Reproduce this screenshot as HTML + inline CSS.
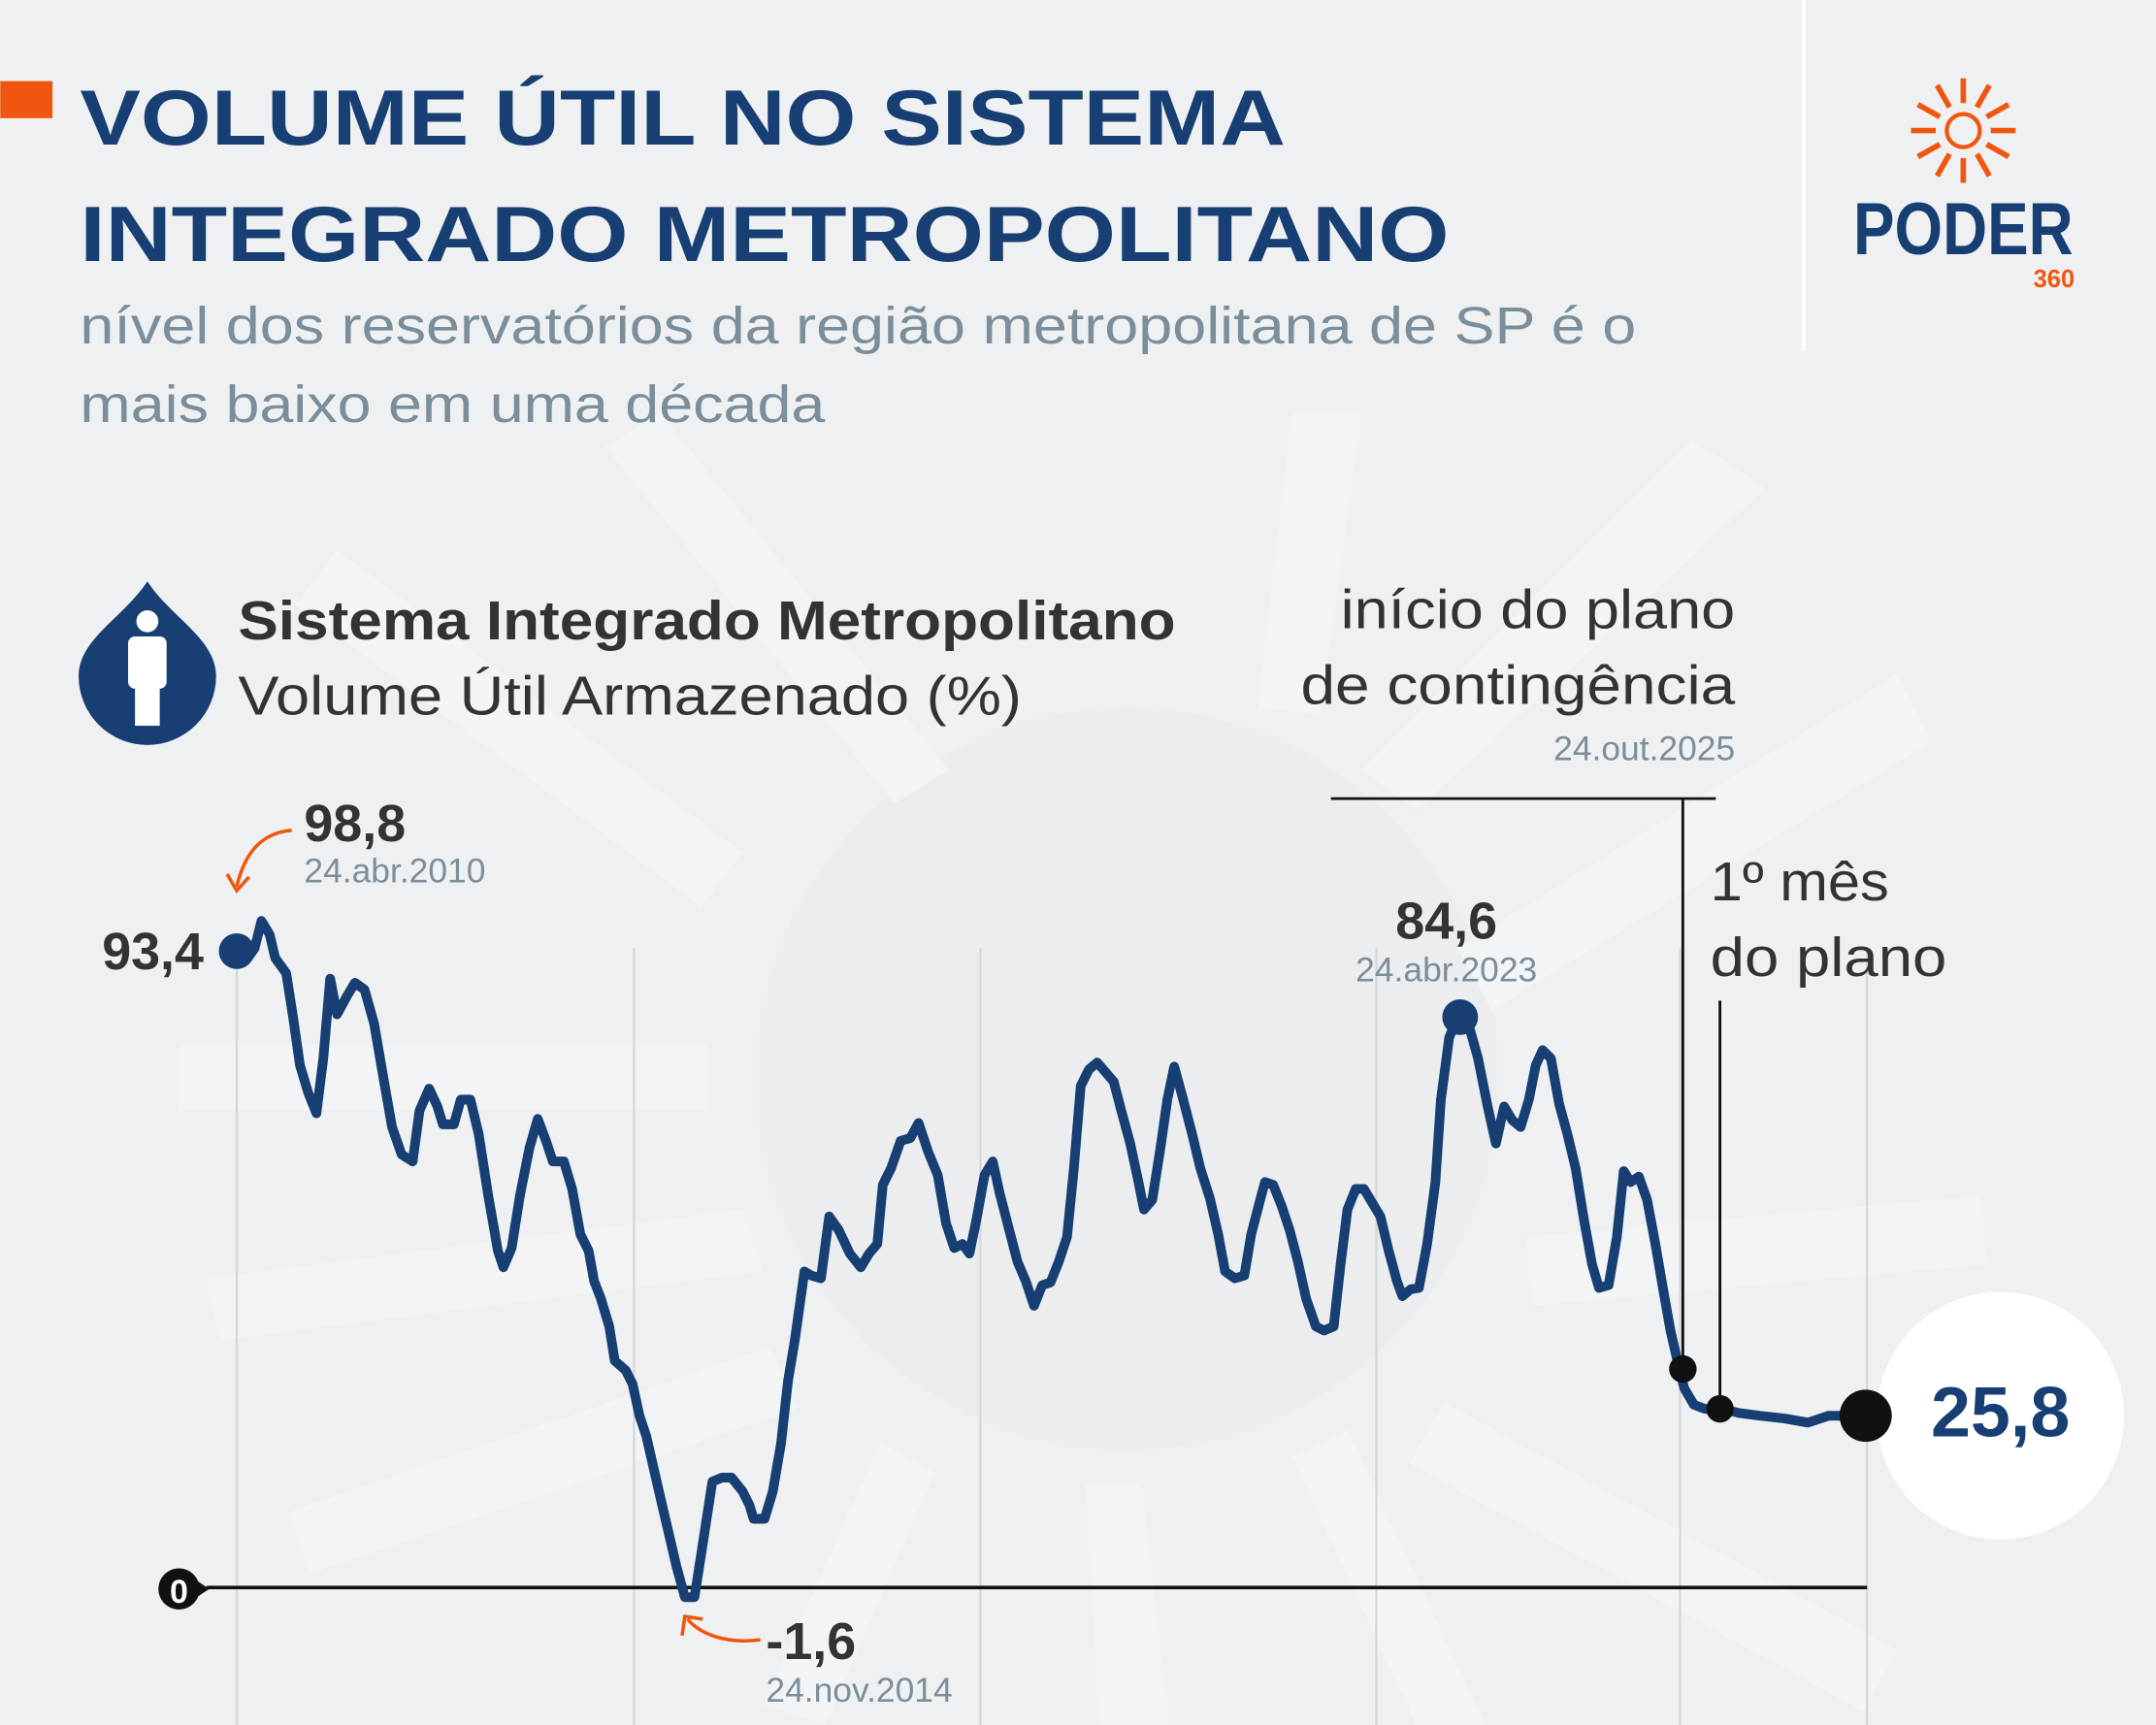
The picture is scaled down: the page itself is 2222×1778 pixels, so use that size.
<!DOCTYPE html>
<html><head><meta charset="utf-8"><style>
html,body{margin:0;padding:0;background:#eff0f1;}
svg{display:block}
text{font-family:"Liberation Sans",sans-serif;}
</style></head><body>
<svg width="2222" height="1778" viewBox="0 0 1568 1255" xmlns="http://www.w3.org/2000/svg">
<rect width="1568" height="1255" fill="#eff0f1"/>
<g fill="#f3f4f5">
<circle cx="820" cy="785" r="270" fill="#ecedef"/>
<polygon points="130,760 515,760 515,808 130,808"/>
<polygon points="150,930 540,880 555,925 160,975"/>
<polygon points="210,1100 560,980 580,1025 225,1145"/>
<polygon points="245,400 540,620 510,660 215,440"/>
<polygon points="480,300 690,560 650,585 440,325"/>
<polygon points="1230,320 990,560 1030,590 1285,355"/>
<polygon points="1380,490 1060,690 1085,735 1405,540"/>
<polygon points="1110,900 1440,870 1445,920 1115,950"/>
<polygon points="1050,1020 1380,1200 1355,1245 1025,1065"/>
<polygon points="790,1080 830,1080 850,1255 800,1255"/>
<polygon points="640,1050 680,1070 600,1255 555,1240"/>
<polygon points="940,1060 980,1040 1080,1255 1030,1255"/>
<polygon points="940,300 990,300 960,520 915,515"/>
</g>
<line x1="1312" y1="0" x2="1312" y2="255" stroke="#fff" stroke-width="3"/>
<rect x="0" y="59" width="38" height="27" fill="#f0560f"/>
<text x="58" y="105" font-size="57" font-weight="bold" fill="#173f73" textLength="877" lengthAdjust="spacingAndGlyphs">VOLUME ÚTIL NO SISTEMA</text>
<text x="58" y="190" font-size="57" font-weight="bold" fill="#173f73" textLength="996" lengthAdjust="spacingAndGlyphs">INTEGRADO METROPOLITANO</text>
<text x="58" y="250" font-size="38" fill="#7a8e9b" textLength="1132" lengthAdjust="spacingAndGlyphs">nível dos reservatórios da região metropolitana de SP é o</text>
<text x="58" y="307" font-size="38" fill="#7a8e9b" textLength="542" lengthAdjust="spacingAndGlyphs">mais baixo em uma década</text>
<g transform="translate(1428,95)" stroke="#f0560f" stroke-width="4">
<line x1="0" y1="-20" x2="0" y2="-38"/><line x1="10" y1="-17" x2="19" y2="-33"/><line x1="17" y1="-10" x2="33" y2="-19"/><line x1="20" y1="0" x2="38" y2="0"/><line x1="17" y1="10" x2="33" y2="19"/><line x1="10" y1="17" x2="19" y2="33"/><line x1="0" y1="20" x2="0" y2="38"/><line x1="-10" y1="17" x2="-19" y2="33"/><line x1="-17" y1="10" x2="-33" y2="19"/><line x1="-20" y1="0" x2="-38" y2="0"/><line x1="-17" y1="-10" x2="-33" y2="-19"/><line x1="-10" y1="-17" x2="-19" y2="-33"/>
</g>
<circle cx="1428" cy="95" r="12" fill="none" stroke="#f0560f" stroke-width="3"/>
<text x="1348" y="185" font-size="54" font-weight="bold" fill="#173f73" textLength="160" lengthAdjust="spacingAndGlyphs">PODER</text>
<text x="1509" y="209" font-size="18" font-weight="bold" fill="#f0560f" text-anchor="end">360</text>
<path d="M107,423 C125,450 157,465 157,492 A50,50 0 0 1 57,492 C57,465 89,450 107,423 Z" fill="#173f73"/>
<circle cx="107" cy="452" r="8" fill="#fff"/>
<rect x="93" y="463" width="28" height="38" rx="5" fill="#fff"/>
<rect x="98" y="495" width="18" height="33" fill="#fff"/>
<text x="173" y="465" font-size="40" font-weight="bold" fill="#333" textLength="682" lengthAdjust="spacingAndGlyphs">Sistema Integrado Metropolitano</text>
<text x="173" y="520" font-size="40" fill="#333" textLength="570" lengthAdjust="spacingAndGlyphs">Volume Útil Armazenado (%)</text>
<g stroke="#d2d6da" stroke-width="1.5">
<line x1="172" y1="690" x2="172" y2="1255"/><line x1="461" y1="690" x2="461" y2="1255"/><line x1="713" y1="690" x2="713" y2="1255"/><line x1="1001" y1="690" x2="1001" y2="1255"/><line x1="1222" y1="690" x2="1222" y2="1255"/><line x1="1358" y1="690" x2="1358" y2="1255"/>
</g>
<line x1="150" y1="1155" x2="1358" y2="1155" stroke="#111" stroke-width="2.5"/>
<circle cx="130" cy="1156" r="15" fill="#111"/>
<polygon points="143,1150 152,1156 143,1162" fill="#111"/>
<text x="130" y="1166" font-size="24" font-weight="bold" fill="#fff" text-anchor="middle">0</text>
<line x1="968" y1="581" x2="1248" y2="581" stroke="#111" stroke-width="2"/>
<line x1="1224" y1="581" x2="1224" y2="995" stroke="#111" stroke-width="2"/>
<line x1="1251" y1="728" x2="1251" y2="1025" stroke="#111" stroke-width="2"/>
<text x="975" y="457" font-size="40" fill="#333" textLength="287" lengthAdjust="spacingAndGlyphs">início do plano</text>
<text x="946" y="512" font-size="40" fill="#333" textLength="316" lengthAdjust="spacingAndGlyphs">de contingência</text>
<text x="1262" y="553" font-size="25" fill="#7a8e9b" text-anchor="end">24.out.2025</text>
<text x="1244" y="655" font-size="40" fill="#333" textLength="130" lengthAdjust="spacingAndGlyphs">1º mês</text>
<text x="1244" y="710" font-size="40" fill="#333" textLength="172" lengthAdjust="spacingAndGlyphs">do plano</text>
<polyline fill="none" stroke="#173f73" stroke-width="7" stroke-linejoin="round" stroke-linecap="round" points="172,692 180,697 185,690 190,670 196,680 200,697 208,708 213,740 218,775 224,795 230,810 235,770 240,712 245,738 252,725 258,715 265,720 272,745 278,780 285,820 292,840 300,845 305,808 312,792 318,805 322,818 330,818 335,800 342,800 348,825 355,870 362,910 366,922 372,908 378,870 385,835 391,814 397,830 402,845 410,845 416,865 422,898 428,910 432,932 437,945 443,965 447,990 455,997 460,1007 465,1030 470,1045 478,1080 485,1110 492,1140 498,1162 505,1162 510,1130 518,1078 525,1075 532,1075 540,1085 545,1095 548,1105 556,1105 562,1085 568,1050 573,1005 578,975 585,925 590,928 597,930 603,885 610,895 618,912 626,922 632,912 638,905 642,862 648,850 655,830 662,828 668,817 675,838 682,855 688,890 694,908 700,905 705,912 710,888 716,855 722,845 727,868 734,895 740,918 746,932 752,950 758,935 764,933 770,918 776,900 781,850 786,790 792,778 798,773 804,780 810,787 816,810 822,832 828,860 832,880 838,873 844,835 849,800 854,776 860,798 867,825 873,850 880,872 886,898 891,925 898,930 905,928 910,898 916,875 920,860 926,862 932,877 938,895 944,918 950,945 957,965 963,968 970,965 975,920 980,880 986,865 992,865 998,875 1004,885 1010,910 1016,932 1020,943 1026,938 1032,937 1038,905 1044,860 1048,800 1054,755 1058,745 1062,740 1068,745 1075,770 1082,805 1088,832 1094,805 1100,815 1106,820 1112,800 1117,775 1122,764 1128,770 1134,803 1140,825 1146,850 1152,887 1158,920 1163,937 1170,935 1176,900 1181,852 1186,860 1192,856 1198,873 1204,905 1210,940 1215,968 1220,990 1225,1010 1232,1022 1240,1025 1252,1025 1265,1028 1280,1030 1298,1032 1315,1035 1330,1030 1345,1030 1357,1030"/>
<circle cx="172" cy="692" r="13" fill="#173f73"/>
<circle cx="1062" cy="740" r="13" fill="#173f73"/>
<circle cx="1224" cy="996" r="10" fill="#111"/>
<circle cx="1251" cy="1025" r="10" fill="#111"/>
<circle cx="1455" cy="1030" r="90" fill="#fff"/>
<circle cx="1357" cy="1030" r="19" fill="#111"/>
<text x="1455" y="1045" font-size="52" font-weight="bold" fill="#173f73" text-anchor="middle">25,8</text>
<text x="148" y="705" font-size="38" font-weight="bold" fill="#333" text-anchor="end">93,4</text>
<text x="221" y="612" font-size="38" font-weight="bold" fill="#333">98,8</text>
<text x="221" y="642" font-size="25" fill="#7a8e9b">24.abr.2010</text>
<path d="M212,604 C190,606 178,620 172,645" fill="none" stroke="#f0560f" stroke-width="2.5"/>
<polyline points="165,636 172,648 181,638" fill="none" stroke="#f0560f" stroke-width="2.5"/>
<text x="1052" y="683" font-size="38" font-weight="bold" fill="#333" text-anchor="middle">84,6</text>
<text x="1052" y="714" font-size="25" fill="#7a8e9b" text-anchor="middle">24.abr.2023</text>
<text x="557" y="1207" font-size="38" font-weight="bold" fill="#333">-1,6</text>
<text x="557" y="1238" font-size="25" fill="#7a8e9b">24.nov.2014</text>
<path d="M553,1193 C530,1196 510,1190 500,1178" fill="none" stroke="#f0560f" stroke-width="2.5"/>
<polyline points="496,1190 498,1176 511,1178" fill="none" stroke="#f0560f" stroke-width="2.5"/>
</svg>
</body></html>
